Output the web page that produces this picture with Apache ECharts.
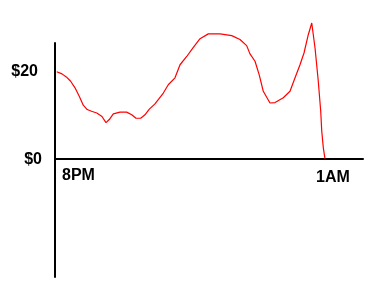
<!DOCTYPE html>
<html>
<head>
<meta charset="utf-8">
<script src="https://cdn.jsdelivr.net/npm/echarts@6/dist/echarts.min.js"></script>
<style>
html,body{margin:0;padding:0;background:#fff;}
#chart{width:392px;height:295px;}
</style>
</head>
<body>
<div id="chart"></div>
<script>
// minutes after 8PM
var minutes = [2, 8, 13, 18, 23, 28, 32.5, 37, 42, 48, 54, 58.6, 62.4, 67, 74.7, 82.4, 88.2, 93.1, 98.5, 103.4, 108.4, 114.9, 118.7, 124.5, 130.2, 137.9, 143.7, 151.4, 159, 166.7, 176.2, 189.7, 203.1, 212.6, 220.3, 224.1, 229.9, 234.8, 239.4, 247.1, 252.9, 262.4, 270.1, 275.9, 281.6, 286.2, 291.1, 295.1, 298.9, 302.6, 305.4, 306.6, 308.4, 310.3];
// dollars
var dollars = [20.0, 19.5, 18.8, 17.8, 16.3, 14.3, 12.3, 11.3, 10.9, 10.5, 9.7, 8.3, 9.0, 10.3, 10.7, 10.7, 10.1, 9.3, 9.3, 10.1, 11.4, 12.6, 13.6, 15.1, 17.0, 18.6, 21.6, 23.5, 25.6, 27.6, 28.7, 28.7, 28.3, 27.4, 26.0, 24.1, 22.4, 19.2, 15.5, 12.8, 12.9, 14.0, 15.5, 18.6, 21.6, 24.3, 28.5, 31.2, 25.4, 17.8, 10.9, 6.3, 2.5, 0];
var xTickValues = [0, 300];
var xTickLabels = ['8PM', '1AM'];
var yTickValues = [0, 20];
var yTickLabels = ['$0', '$20'];

var points = minutes.map(function (m, i) { return [m, dollars[i]]; });
var font = '"Liberation Sans", Arial, sans-serif';
var yMin = -27.2, yMax = 26.6;
var gridTop = 43, gridBottom = 18, chartH = 295;
var plotH = chartH - gridTop - gridBottom;
var zeroShift = plotH * (0 - yMin) / (yMax - yMin); // distance from grid bottom up to zero line

function txt(extra) {
  var s = {fontFamily: font, fontSize: 16, fontWeight: 'bold', color: '#000'};
  for (var k in extra) s[k] = extra[k];
  return s;
}

var chart = echarts.init(document.getElementById('chart'), null, {renderer: 'canvas'});
chart.setOption({
  animation: false,
  backgroundColor: '#ffffff',
  grid: {left: 55, right: 29, top: gridTop, bottom: gridBottom, containLabel: false, outerBoundsMode: 'none'},
  xAxis: [{
    type: 'value', min: 0, max: 354,
    axisLine: {show: true, onZero: true, lineStyle: {color: '#000', width: 2}},
    axisTick: {show: false},
    splitLine: {show: false},
    axisLabel: {show: false}
  }, {
    type: 'value', min: 0, max: 354, position: 'bottom',
    offset: -zeroShift,
    axisLine: {show: false, onZero: false},
    axisTick: {show: false},
    splitLine: {show: false},
    axisLabel: {
      customValues: xTickValues,
      margin: 9,
      align: 'left',
      color: '#000',
      fontFamily: font,
      fontSize: 16,
      fontWeight: 'bold',
      formatter: function (v) {
        var i = xTickValues.indexOf(v);
        var t = i >= 0 ? xTickLabels[i] : '';
        return i === 0 ? '{a|' + t + '}' : '{b|' + t + '}';
      },
      rich: {
        a: txt({padding: [0, 0, 0, 7]}),
        b: txt({padding: [2, 0, 0, 0]})
      }
    }
  }],
  yAxis: {
    type: 'value', min: yMin, max: yMax,
    axisLine: {show: true, onZero: true, lineStyle: {color: '#000', width: 2}},
    axisTick: {show: false},
    splitLine: {show: false},
    axisLabel: {
      customValues: yTickValues,
      margin: 13,
      color: '#000',
      fontFamily: font,
      fontSize: 16,
      fontWeight: 'bold',
      formatter: function (v) {
        var i = yTickValues.indexOf(v);
        var t = i >= 0 ? yTickLabels[i] : '';
        return v === 20 ? '{b|' + t + '}' : '{a|' + t + '}';
      },
      rich: {
        a: txt({padding: [2, 0, 0, 0]}),
        b: txt({padding: [0, 4, 0, 0]})
      }
    }
  },
  series: [{
    type: 'line',
    data: points,
    xAxisIndex: 0,
    showSymbol: false,
    clip: false,
    smooth: false,
    lineStyle: {color: '#ff0000', width: 1.2},
    z: 1
  }]
});
</script>
</body>
</html>
